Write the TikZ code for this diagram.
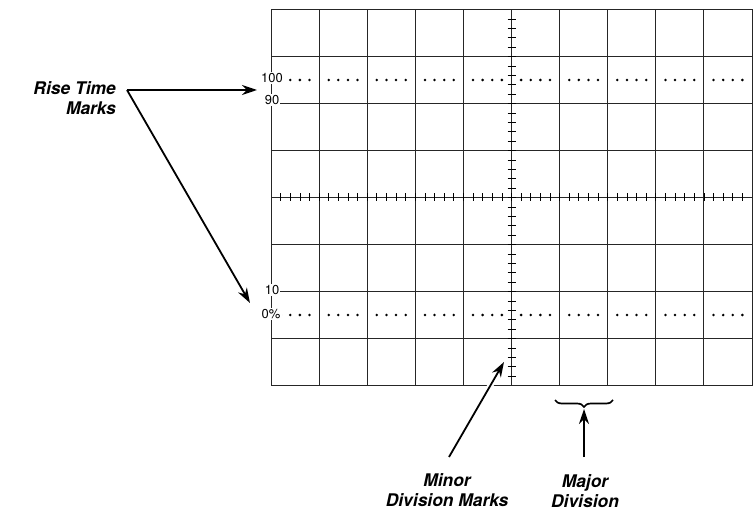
\documentclass[tikz,border=0pt]{standalone}
\usepackage{fontspec}
\setmainfont{TeX Gyre Heros}
\usetikzlibrary{arrows.meta,decorations.pathreplacing}
\begin{document}
\begin{tikzpicture}[x=1bp,y=-1bp,
  gridline/.style={line width=0.9bp, black!85},
  tickline/.style={line width=0.7bp, black},
  caption/.style={font=\fontsize{17.5}{20}\selectfont\bfseries\itshape, inner sep=0pt},
  pct/.style={font=\fontsize{13}{13}\selectfont, fill=white, inner sep=1.2bp},
  callout/.style={line width=1.8bp, -{Stealth[length=15bp,width=10bp]}},
  halo/.style={line width=6bp, white},
  bracemark/.style={line width=1.7bp, decorate, decoration={brace, mirror, amplitude=7bp}}
]
\useasboundingbox (0,0) rectangle (753,515);
% grid
\foreach \i in {0,...,10} \draw[gridline] ({271+\i*48.1},9.5) -- ({271+\i*48.1},385.5);
\foreach \j in {0,...,8} \draw[gridline] (271,{9.5+\j*47}) -- (752,{9.5+\j*47});
% minor division marks on centre axes
\foreach \k in {1,...,39} \draw[tickline] (507.5,{9.5+\k*9.4}) -- (515.5,{9.5+\k*9.4});
\foreach \k in {1,...,49} \draw[tickline] ({271+\k*9.62},193.5) -- ({271+\k*9.62},201.5);
% rise time dotted lines
\foreach \i in {0,...,9} \foreach \f in {1,...,4} {
  \fill ({271+\i*48.1+\f*9.62},80) circle (1.4bp);
  \fill ({271+\i*48.1+\f*9.62},315) circle (1.4bp);
}
% percentage labels
\node[pct] (p100) at (272,78) {100};
\node[pct] (p90) at (272,100) {90};
\node[pct] (p10) at (272,290) {10};
\node[pct] (p0) at (271,314) {0\%};
% rise time callout
\node[caption, anchor=east, align=right] (rise) at (116,98) {Rise Time\\Marks};
\coordinate (rtstart) at (127,90);
\coordinate (rttop) at (257,90);
\coordinate (rtbot) at (250,303);
\draw[callout] (rtstart) -- (rttop);
\draw[callout] (rtstart) -- (rtbot);
% minor division callout
\node[caption, align=center] (minor) at (447,490) {Minor\\Division Marks};
\coordinate (minfoot) at (449,457);
\coordinate (mintip) at (504,362);
\draw[halo] (minfoot) -- (mintip);
\draw[callout] (minfoot) -- (mintip);
% major division callout
\node[caption, align=center] (major) at (585,491) {Major\\Division};
\coordinate (brl) at (555,400);
\coordinate (brr) at (613,400);
\draw[bracemark] (brl) -- (brr);
\coordinate (majfoot) at (584,457);
\coordinate (majtip) at (584,409);
\draw[callout] (majfoot) -- (majtip);
\end{tikzpicture}
\end{document}
